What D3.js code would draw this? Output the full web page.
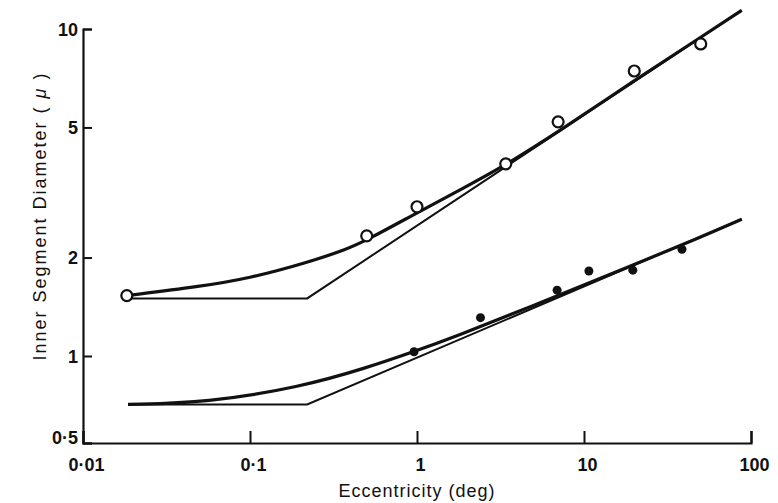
<!DOCTYPE html>
<html>
<head>
<meta charset="utf-8">
<script src="https://cdn.jsdelivr.net/npm/d3@7"></script>
<style>
  body { margin: 0; background: #fff; }
  text { font-family: "Liberation Sans", Arial, sans-serif; fill: #111; }
</style>
</head>
<body>
<div id="chart"></div>
<script>
// eccentricity (deg) and inner segment diameter
var openEcc = [0.0183, 0.5, 1.0, 3.4, 7.0, 20, 50];
var openDiam = [1.53, 2.33, 2.86, 3.87, 5.2, 7.44, 9.0];

var filledEcc = [0.96, 2.4, 6.9, 10.7, 19.6, 38.6];
var filledDiam = [1.03, 1.31, 1.59, 1.82, 1.83, 2.12];

// fitted curves (thick)
var upperCurveEcc = [0.0183, 0.05, 0.1, 0.22, 0.38, 0.5, 1.0, 1.81, 3.41, 6.98, 20.2, 49.5, 88];
var upperCurveDiam = [1.53, 1.63, 1.73, 1.93, 2.12, 2.26, 2.74, 3.22, 3.84, 4.84, 6.98, 9.4, 11.4];
var lowerCurveEcc = [0.0186, 0.055, 0.2, 0.5, 0.95, 1.58, 6.0, 19.6, 39.2, 88];
var lowerCurveDiam = [0.68, 0.69, 0.78, 0.91, 1.03, 1.13, 1.48, 1.9, 2.19, 2.62];

// straight-line approximations (thin)
var upperLineEcc = [0.0183, 0.22, 88];
var upperLineDiam = [1.5, 1.5, 11.4];
var lowerLineEcc = [0.0186, 0.22, 88];
var lowerLineDiam = [0.68, 0.68, 2.62];

var xTicks = [0.01, 0.1, 1, 10, 100];
var yTicks = [0.5, 1, 2, 5, 10];

var width = 778, height = 503;

var svg = d3.select("#chart")
    .append("svg")
    .attr("width", width)
    .attr("height", height);

var xScale = d3.scaleLog()
    .domain([0.01, 100])
    .range([83, 751]);

// the printed axis is a bit squashed below 1, so the scale follows it piecewise
var yScale = d3.scaleLog()
    .domain([0.5, 1, 10])
    .range([443, 356, 29]);

function fmt(d) {
    return String(d).replace(".", "\u00b7");
}

var xAxis = d3.axisBottom(xScale)
    .tickValues(xTicks)
    .tickFormat(fmt)
    .tickSizeInner(-12)
    .tickSizeOuter(-12)
    .tickPadding(12);

var yAxis = d3.axisLeft(yScale)
    .tickValues(yTicks)
    .tickFormat(fmt)
    .tickSizeInner(-9)
    .tickSizeOuter(-9)
    .tickPadding(5);

var gx = svg.append("g").attr("transform", "translate(0,443)").call(xAxis);
var gy = svg.append("g").attr("transform", "translate(83,0)").call(yAxis);

[gx, gy].forEach(function (g) {
    g.select(".domain").attr("stroke", "#111").attr("stroke-width", 2.2);
    g.selectAll(".tick line").attr("stroke", "#111").attr("stroke-width", 2);
    g.selectAll(".tick text")
        .attr("font-size", 18)
        .attr("font-weight", "bold")
        .attr("fill", "#111")
        .style("font-family", "'Liberation Sans', Arial, sans-serif");
});
gx.selectAll(".tick text").attr("dy", "0.9em").attr("dx", 3);
gy.selectAll(".tick text").attr("dy", function (d) { return d === 0.5 ? "0.0em" : "0.35em"; });

svg.append("text")
    .attr("x", 417)
    .attr("y", 497)
    .attr("text-anchor", "middle")
    .attr("font-size", 18)
    .attr("letter-spacing", 1)
    .text("Eccentricity  (deg)");

svg.append("text")
    .attr("transform", "translate(46,216) rotate(-90)")
    .attr("text-anchor", "middle")
    .attr("font-size", 18)
    .attr("letter-spacing", 2)
    .html("Inner Segment Diameter  (  <tspan font-style='italic'>\u03bc</tspan>  )");

function zip(xs, ys) {
    return xs.map(function (x, i) { return [x, ys[i]]; });
}

var curve = d3.line()
    .x(function (d) { return xScale(d[0]); })
    .y(function (d) { return yScale(d[1]); })
    .curve(d3.curveBasis);

var straight = d3.line()
    .x(function (d) { return xScale(d[0]); })
    .y(function (d) { return yScale(d[1]); });

svg.append("path").datum(zip(upperLineEcc, upperLineDiam))
    .attr("d", straight).attr("fill", "none").attr("stroke", "#111").attr("stroke-width", 2);
svg.append("path").datum(zip(lowerLineEcc, lowerLineDiam))
    .attr("d", straight).attr("fill", "none").attr("stroke", "#111").attr("stroke-width", 2);
svg.append("path").datum(zip(upperCurveEcc, upperCurveDiam))
    .attr("d", curve).attr("fill", "none").attr("stroke", "#111").attr("stroke-width", 3.2);
svg.append("path").datum(zip(lowerCurveEcc, lowerCurveDiam))
    .attr("d", curve).attr("fill", "none").attr("stroke", "#111").attr("stroke-width", 3.2);

svg.selectAll("circle.open").data(zip(openEcc, openDiam))
    .enter()
    .append("circle")
    .attr("class", "open")
    .attr("cx", function (d) { return xScale(d[0]); })
    .attr("cy", function (d) { return yScale(d[1]); })
    .attr("r", 5.5)
    .attr("fill", "#fff")
    .attr("stroke", "#111")
    .attr("stroke-width", 2.2);

svg.selectAll("circle.filled").data(zip(filledEcc, filledDiam))
    .enter()
    .append("circle")
    .attr("class", "filled")
    .attr("cx", function (d) { return xScale(d[0]); })
    .attr("cy", function (d) { return yScale(d[1]); })
    .attr("r", 4.5)
    .attr("fill", "#111");
</script>
</body>
</html>
